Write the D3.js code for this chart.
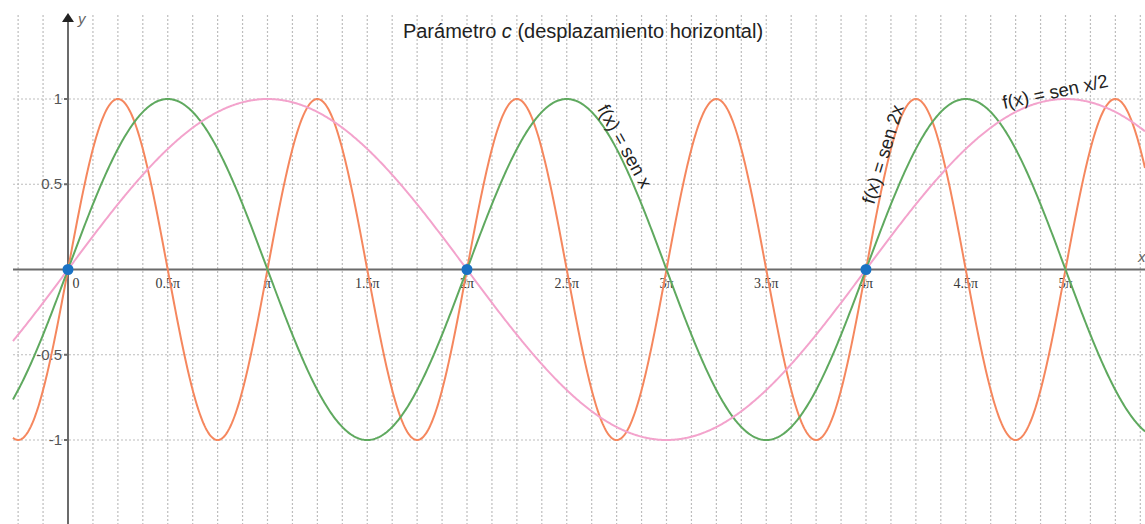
<!DOCTYPE html>
<html>
<head>
<meta charset="utf-8">
<script src="https://cdn.jsdelivr.net/npm/d3@7"></script>
<style>
  html, body { margin: 0; padding: 0; background: #fff; }
  svg { display: block; }
</style>
</head>
<body>
<svg id="chart" width="1145" height="524"></svg>
<script>
// Functions plotted: f(x) = sen(k·x)
const seriesNames = ["sen 2x", "sen x", "sen x/2"];
const seriesFrequencies = [2, 1, 0.5];
const seriesColors = ["#f5875e", "#5fa95f", "#f3a3cc"];

// X ticks in multiples of π
const xTickMultiples = [0, 0.5, 1, 1.5, 2, 2.5, 3, 3.5, 4, 4.5, 5];
const xTickLabels = ["0", "0.5π", "π", "1.5π", "2π", "2.5π", "3π", "3.5π", "4π", "4.5π", "5π"];
const yTickValues = [1, 0.5, -0.5, -1];
const yTickLabels = ["1", "0.5", "-0.5", "-1"];

// Marked points on the x axis (multiples of π)
const markedMultiples = [0, 2, 4];

const W = 1145, H = 524;
const svg = d3.select("#chart");

const x = d3.scaleLinear().domain([0, 4 * Math.PI]).range([68, 866]);
const y = d3.scaleLinear().domain([-1, 1]).range([440, 99]);

const plotLeft = 13, plotRight = W, gridTop = 15;
const xMin = x.invert(plotLeft), xMax = x.invert(plotRight);

// Grid: vertical lines every π/8, horizontal every 0.5
const gridStep = Math.PI / 8;
const vLines = d3.range(Math.ceil(xMin / gridStep), Math.floor(xMax / gridStep) + 1).map(k => k * gridStep);
const grid = svg.append("g").attr("stroke", "#bdbdbd").attr("stroke-width", 1.2).attr("stroke-dasharray", "2,2");
grid.selectAll("line.v").data(vLines).join("line")
  .attr("class", "v")
  .attr("x1", d => x(d)).attr("x2", d => x(d))
  .attr("y1", gridTop).attr("y2", H);
grid.selectAll("line.h").data(yTickValues).join("line")
  .attr("class", "h")
  .attr("x1", plotLeft).attr("x2", plotRight)
  .attr("y1", d => y(d)).attr("y2", d => y(d));

// Axes
const axisColor = "#6b6b6b";
svg.append("line")
  .attr("x1", plotLeft).attr("x2", plotRight)
  .attr("y1", y(0)).attr("y2", y(0))
  .attr("stroke", axisColor).attr("stroke-width", 2);
svg.append("line")
  .attr("x1", x(0)).attr("x2", x(0))
  .attr("y1", H).attr("y2", 20)
  .attr("stroke", axisColor).attr("stroke-width", 2);
svg.append("path")
  .attr("d", `M${x(0)},13 L${x(0) - 6},22 L${x(0) + 6},22 Z`)
  .attr("fill", "#222");
svg.append("text")
  .attr("x", x(0) + 10).attr("y", 24)
  .attr("font-family", "Liberation Sans, Arial, sans-serif")
  .attr("font-style", "italic").attr("font-size", 15).attr("fill", "#666")
  .text("y");
svg.append("text")
  .attr("x", 1138).attr("y", 262)
  .attr("font-family", "Liberation Sans, Arial, sans-serif")
  .attr("font-style", "italic").attr("font-size", 15).attr("fill", "#666")
  .text("x");

// Y ticks and labels
svg.selectAll("line.ytick").data(yTickValues).join("line")
  .attr("class", "ytick")
  .attr("x1", x(0) - 4).attr("x2", x(0))
  .attr("y1", d => y(d)).attr("y2", d => y(d))
  .attr("stroke", axisColor).attr("stroke-width", 2);
svg.selectAll("text.ylab").data(yTickValues).join("text")
  .attr("class", "ylab")
  .attr("x", x(0) - 6).attr("y", d => y(d) + 5)
  .attr("text-anchor", "end")
  .attr("font-family", "Liberation Sans, Arial, sans-serif")
  .attr("font-size", 15).attr("fill", "#555")
  .text((d, i) => yTickLabels[i]);

// X tick labels
svg.selectAll("text.xlab").data(xTickMultiples).join("text")
  .attr("class", "xlab")
  .attr("x", d => d === 0 ? x(0) + 8 : x(d * Math.PI))
  .attr("y", y(0) + 18)
  .attr("text-anchor", "middle")
  .attr("font-family", "Liberation Serif, Times New Roman, serif")
  .attr("font-size", 14).attr("fill", "#3a3a3a")
  .text((d, i) => xTickLabels[i]);

// Curves
const samples = d3.range(0, 1201).map(i => xMin + (xMax - xMin) * i / 1200);
const line = d3.line().x(d => x(d[0])).y(d => y(d[1]));
const curves = svg.append("g").attr("fill", "none").attr("stroke-width", 2);
seriesFrequencies.forEach((k, i) => {
  curves.append("path")
    .attr("d", line(samples.map(t => [t, Math.sin(k * t)])))
    .attr("stroke", seriesColors[i]);
});

// Points
svg.selectAll("circle.pt").data(markedMultiples).join("circle")
  .attr("class", "pt")
  .attr("cx", d => x(d * Math.PI)).attr("cy", y(0))
  .attr("r", 5.5).attr("fill", "#1a72c4");

// Curve labels
const labelFont = "Liberation Sans, Arial, sans-serif";
const curveLabels = [
  { text: "f(x) = sen x", px: 597, py: 109, angle: 61 },
  { text: "f(x) = sen 2x", px: 874, py: 205, angle: -73 },
  { text: "f(x) = sen x/2", px: 1004, py: 109, angle: -12 }
];
svg.selectAll("text.clab").data(curveLabels).join("text")
  .attr("class", "clab")
  .attr("transform", d => `translate(${d.px},${d.py}) rotate(${d.angle})`)
  .attr("font-family", labelFont).attr("font-size", 18.5).attr("fill", "#222")
  .text(d => d.text);

// Title
const title = svg.append("text")
  .attr("x", 583).attr("y", 38)
  .attr("text-anchor", "middle")
  .attr("font-family", labelFont).attr("font-size", 20).attr("fill", "#222");
title.append("tspan").text("Parámetro ");
title.append("tspan").attr("font-style", "italic").text("c");
title.append("tspan").text(" (desplazamiento horizontal)");
</script>
</body>
</html>
